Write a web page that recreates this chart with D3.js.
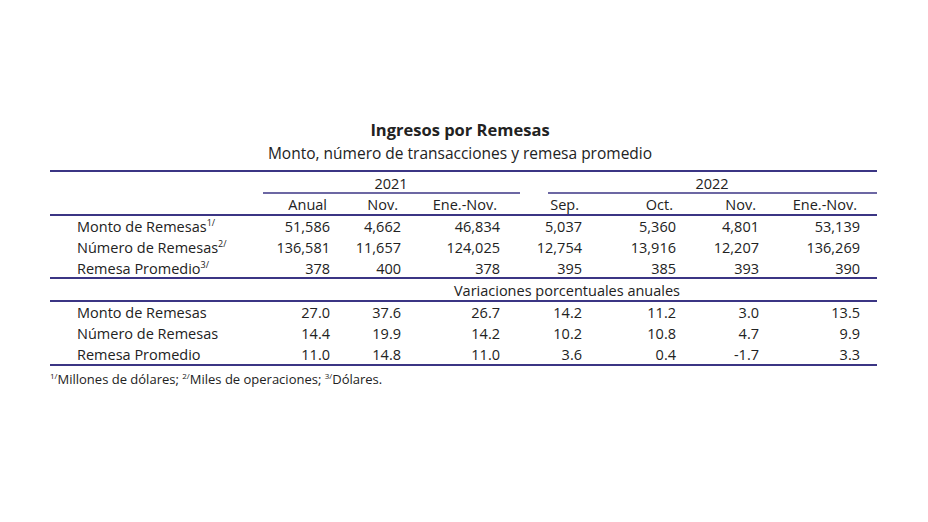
<!DOCTYPE html><html><head><meta charset="utf-8"><script src="https://cdn.jsdelivr.net/npm/d3@7"></script>
<style>body{margin:0;background:#fff}text{font-family:"Open Sans","Liberation Sans",sans-serif;fill:#222}</style></head><body>
<script>
const title="Ingresos por Remesas";
const subtitle="Monto, número de transacciones y remesa promedio";
const years=["2021","2022"];
const columns=["Anual","Nov.","Ene.-Nov.","Sep.","Oct.","Nov.","Ene.-Nov."];
const rowLabels=["Monto de Remesas","Número de Remesas","Remesa Promedio"];
const sups=["1/","2/","3/"];
const levels=[
 ["51,586","4,662","46,834","5,037","5,360","4,801","53,139"],
 ["136,581","11,657","124,025","12,754","13,916","12,207","136,269"],
 ["378","400","378","395","385","393","390"]];
const variations=[
 ["27.0","37.6","26.7","14.2","11.2","3.0","13.5"],
 ["14.4","19.9","14.2","10.2","10.8","4.7","9.9"],
 ["11.0","14.8","11.0","3.6","0.4","-1.7","3.3"]];
const sectionLabel="Variaciones porcentuales anuales";
const footnote=[["1/","Millones de dólares; "],["2/","Miles de operaciones; "],["3/","Dólares."]];

const W=928,H=522,purple="#3b3584";
const svg=d3.select("body").append("svg").attr("width",W).attr("height",H);
const x=d3.scaleOrdinal().domain(d3.range(7)).range([330,401,500,582,676,759,860]);
const y=d3.scaleLinear().domain([0,1]).range([232,253]); // row step
const fs=14.5;
svg.append("text").attr("x",460).attr("y",136).attr("text-anchor","middle").attr("font-size",16.5).attr("font-weight","bold").text(title);
svg.append("text").attr("x",460).attr("y",159).attr("text-anchor","middle").attr("font-size",15.5).text(subtitle);
const line=(x1,x2,yy,w)=>svg.append("line").attr("x1",x1).attr("x2",x2).attr("y1",yy).attr("y2",yy).attr("stroke",purple).attr("stroke-width",w);
line(50,877,171,2.2);line(263,520,193,1.3);line(548,877,193,1.3);line(50,877,215,2.2);
line(50,877,278,2.2);line(50,877,301,2.2);line(50,877,365,2.2);
svg.append("text").attr("x",391).attr("y",189).attr("text-anchor","middle").attr("font-size",fs).text(years[0]);
svg.append("text").attr("x",712).attr("y",189).attr("text-anchor","middle").attr("font-size",fs).text(years[1]);
columns.forEach((c,i)=>svg.append("text").attr("x",x(i)-3).attr("y",210).attr("text-anchor","end").attr("font-size",fs).text(c));
function block(data,y0,sup){
 rowLabels.forEach((r,j)=>{
  const t=svg.append("text").attr("x",77).attr("y",y0+(y(j)-y(0))).attr("font-size",fs).text(r);
  if(sup) t.append("tspan").attr("font-size",9).attr("dy",-6).text(sups[j]);
  data[j].forEach((v,i)=>svg.append("text").attr("x",x(i)).attr("y",y0+(y(j)-y(0))).attr("text-anchor","end").attr("font-size",fs).text(v));
 });
}
block(levels,232,true);
svg.append("text").attr("x",567).attr("y",296).attr("text-anchor","middle").attr("font-size",fs).text(sectionLabel);
block(variations,318,false);
const f=svg.append("text").attr("x",50).attr("y",384).attr("font-size",13);
footnote.forEach(([s,t])=>{f.append("tspan").attr("font-size",8).attr("dy",-5).text(s);f.append("tspan").attr("dy",5).text(t);});
</script></body></html>
